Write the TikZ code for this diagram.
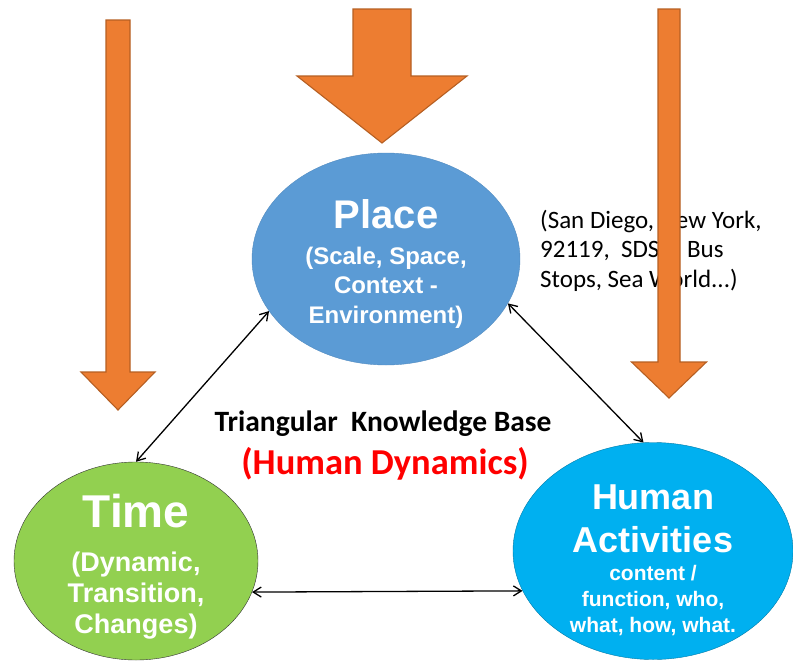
\documentclass[tikz,border=0pt]{standalone}
\usepackage{fontspec}
\setmainfont{Carlito}
\newfontfamily\arialfont{Liberation Sans}
\usetikzlibrary{shapes.geometric,arrows.meta}
\definecolor{placeblue}{HTML}{5B9BD5}
\definecolor{timegreen}{HTML}{92D050}
\definecolor{humanblue}{HTML}{00B0F0}
\definecolor{arroworange}{HTML}{ED7D31}
\definecolor{arrowedge}{HTML}{B65F22}
\definecolor{dynred}{HTML}{FF0000}
\begin{document}
\begin{tikzpicture}[x=1pt, y=-1pt,
  blob/.style={ellipse, inner sep=0pt},
  blobtext/.style={inner sep=0pt, text=white, align=center},
  link/.style={<->, >={Straight Barb[length=8pt,width=10pt]}, line width=1.3pt},
  bigarrow/.style={fill=arroworange, draw=arrowedge, line width=1.1pt, line join=miter}]
\useasboundingbox (0,0) rectangle (793,664);
\node[blob, fill=placeblue, draw=placeblue!90!black, minimum width=268pt, minimum height=212pt] (place) at (386,259) {};
\node[blob, fill=timegreen, draw=black!80, minimum width=244pt, minimum height=198pt] (time) at (136,561) {};
\node[blob, fill=humanblue, draw=humanblue!70!black, minimum width=280pt, minimum height=217pt] (human) at (653,551) {};
% texts sit a little below the middle of their ellipses
\node[blobtext, font=\arialfont\bfseries\fontsize{24}{29.5}\selectfont] (placetext) at (386,264)
  {{\fontsize{40}{40}\selectfont Place}\\[6pt]
   (Scale, Space,\\ Context -\\ Environment)};
\node[blobtext, font=\arialfont\bfseries\fontsize{27}{31}\selectfont] (timetext) at (136,567)
  {{\fontsize{46}{46}\selectfont Time}\\[13pt]
   (Dynamic,\\ Transition,\\ Changes)};
\node[blobtext, font=\arialfont\bfseries\fontsize{21}{26}\selectfont] (humantext) at (653,560)
  {{\fontsize{36}{43}\selectfont Human}\\[16pt]
   {\fontsize{36}{43}\selectfont Activities}\\[2pt]
   content /\\ function, who,\\ what, how, what.};
\node[anchor=north west, align=left, inner sep=0pt, font=\fontsize{25}{29.5}\selectfont] (cities) at (540,210)
  {(San Diego, New York,\\ 92119,\ \ SDSU, Bus\\ Stops, Sea World...)};
\node[inner sep=0pt, font=\bfseries\fontsize{29.5}{32}\selectfont] (tkb) at (383,424) {Triangular\ \ Knowledge Base};
\node[inner sep=0pt, text=dynred, font=\bfseries\fontsize{36.5}{40}\selectfont] (hd) at (385,464) {(Human Dynamics)};
\draw[link] (time.north) -- (place.204);
\draw[link] (place.340) -- (human.95);
\draw[link] (time.345) -- (human.197);
\foreach \xc/\ya/\sw/\hb/\hw/\tip in {118/20/12/372/37/410, 382/9/29/76/85/143, 669/9/11/362/37.5/398}
  \draw[bigarrow] (\xc-\sw,\ya) -- (\xc+\sw,\ya) -- (\xc+\sw,\hb) -- (\xc+\hw,\hb) -- (\xc,\tip)
    -- (\xc-\hw,\hb) -- (\xc-\sw,\hb) -- cycle;
\end{tikzpicture}
\end{document}
